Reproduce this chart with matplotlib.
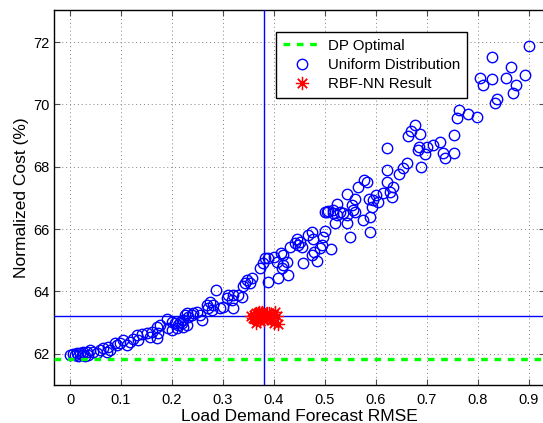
import numpy as np
import matplotlib
matplotlib.use('Agg')
import matplotlib.pyplot as plt

plt.rcParams['font.family'] = ['Liberation Sans', 'DejaVu Sans']

# Uniform distribution results (RMSE, normalized cost %)
uni_rmse = [0.000, 0.006, 0.010, 0.014, 0.016, 0.020, 0.024, 0.025, 0.029, 0.033,
            0.035, 0.039, 0.045, 0.053, 0.059, 0.065, 0.073, 0.075, 0.078, 0.088,
            0.092, 0.098, 0.104, 0.112, 0.118, 0.124, 0.131, 0.133, 0.141, 0.151,
            0.157, 0.161, 0.171, 0.171, 0.173, 0.176, 0.190, 0.192, 0.200, 0.200,
            0.206, 0.210, 0.212, 0.216, 0.220, 0.222, 0.222, 0.225, 0.229, 0.229,
            0.231, 0.239, 0.241, 0.249, 0.255, 0.259,
            0.269, 0.271, 0.275, 0.278, 0.280, 0.286, 0.294, 0.300, 0.308, 0.310,
            0.318, 0.320, 0.320, 0.329, 0.337, 0.339, 0.343, 0.347, 0.353, 0.357,
            0.373, 0.378, 0.382, 0.388, 0.388, 0.400, 0.406, 0.408, 0.416, 0.418,
            0.418, 0.425, 0.427, 0.414, 0.431, 0.441, 0.445, 0.447, 0.451, 0.455,
            0.457, 0.467, 0.475, 0.475, 0.476, 0.478, 0.484, 0.490, 0.494, 0.496,
            0.500, 0.500, 0.504, 0.506, 0.512, 0.516, 0.516, 0.520, 0.524, 0.524,
            0.529, 0.535, 0.543, 0.543, 0.543, 0.549, 0.553, 0.555, 0.559, 0.559,
            0.565, 0.575, 0.576, 0.582, 0.586, 0.588, 0.588, 0.592, 0.594, 0.600,
            0.604, 0.614, 0.622, 0.622, 0.622, 0.627, 0.631, 0.633, 0.645, 0.653,
            0.661, 0.663, 0.669, 0.676, 0.682, 0.685, 0.686, 0.688, 0.696, 0.700,
            0.712, 0.725, 0.731, 0.735, 0.753, 0.753, 0.759, 0.763, 0.780, 0.798,
            0.804, 0.810, 0.827, 0.827, 0.833, 0.837, 0.855, 0.865, 0.869, 0.875,
            0.892, 0.900]
uni_cost = [61.97, 62.00, 61.97, 62.03, 61.93, 62.03, 61.97, 62.06, 61.94, 62.06,
            61.97, 62.13, 62.06, 62.03, 62.13, 62.19, 62.06, 62.22, 62.13, 62.35,
            62.29, 62.35, 62.45, 62.29, 62.38, 62.48, 62.61, 62.45, 62.64, 62.67,
            62.54, 62.71, 62.87, 62.51, 62.67, 62.93, 63.12, 62.83, 62.77, 63.03,
            63.00, 62.83, 62.93, 63.03, 63.00, 63.09, 62.87, 63.25, 63.31, 62.93,
            63.19, 63.25, 63.31, 63.35, 63.25, 63.09,
            63.57, 63.47, 63.67, 63.41, 63.57, 64.05, 63.47, 63.51, 63.79, 63.89,
            63.73, 63.89, 63.47, 63.89, 63.83, 64.18, 64.28, 64.37, 64.28, 64.44,
            64.76, 64.92, 65.08, 64.31, 65.08, 65.11, 64.95, 64.44, 64.76, 65.17,
            64.85, 64.95, 64.53, 65.24, 65.43, 65.56, 65.69, 65.49, 65.59, 65.43,
            64.92, 65.81, 65.91, 65.17, 65.69, 65.27, 64.98, 65.40, 65.49, 65.75,
            65.94, 66.55, 66.55, 66.58, 65.37, 66.62, 66.52, 66.20, 66.81, 66.46,
            66.55, 66.52, 67.13, 66.46, 66.20, 65.75, 66.78, 66.62, 66.97, 66.55,
            67.35, 66.29, 67.58, 67.51, 66.97, 65.91, 66.39, 66.71, 66.94, 67.10,
            66.87, 67.16, 68.60, 67.90, 67.51, 67.19, 67.03, 67.35, 67.77, 67.96,
            68.12, 68.99, 69.15, 69.34, 68.54, 68.63, 69.05, 67.99, 68.41, 68.63,
            68.70, 68.79, 68.44, 68.28, 69.02, 68.44, 69.56, 69.82, 69.69, 69.60,
            70.85, 70.62, 71.52, 70.81, 70.04, 70.17, 70.85, 71.20, 70.37, 70.62,
            70.94, 71.87]

# RBF-NN results
rbf_rmse = [0.355, 0.360, 0.362, 0.365, 0.366, 0.368, 0.370, 0.371, 0.372, 0.374,
            0.375, 0.376, 0.378, 0.380, 0.382, 0.358, 0.364, 0.369, 0.373, 0.377,
            0.385, 0.390, 0.395, 0.398, 0.400, 0.402, 0.405, 0.408, 0.392, 0.387]
rbf_cost = [63.20, 63.25, 63.15, 63.30, 63.10, 63.20, 63.35, 63.25, 63.05, 63.20,
            63.30, 63.15, 63.25, 63.10, 63.20, 63.15, 63.00, 63.30, 63.20, 63.35,
            63.20, 63.30, 63.10, 63.25, 63.00, 63.35, 63.20, 62.95, 63.15, 63.30]

dp_optimal = 61.83
rbf_mean_rmse = 0.381
rbf_mean_cost = 63.20

xticks = [0, 0.1, 0.2, 0.3, 0.4, 0.5, 0.6, 0.7, 0.8, 0.9]
xticklabels = ['0', '0.1', '0.2', '0.3', '0.4', '0.5', '0.6', '0.7', '0.8', '0.9']
yticks = [62, 64, 66, 68, 70, 72]

fig = plt.figure(figsize=(5.43, 4.23), dpi=100)
# axes box runs just past the right edge of the image, as in the original
ax = fig.add_axes([54 / 543, 38 / 423, 491 / 543, 375 / 423])

ax.axhline(dp_optimal, color=(0, 1, 0), lw=2.4, dashes=(2, 2), label='DP Optimal', zorder=3)
ax.plot(uni_rmse, uni_cost, 'o', mfc='none', mec='b', ms=7.5, mew=1.0,
        label='Uniform Distribution', zorder=2)
ax.plot(rbf_rmse, rbf_cost, ls='none', marker=(8, 2, 0), color='r', ms=9.5, mew=0.9,
        label='RBF-NN Result', zorder=4)
ax.axvline(rbf_mean_rmse, color='b', lw=1, zorder=3)
ax.axhline(rbf_mean_cost, color='b', lw=1, zorder=3)

ax.set_xlim(-0.0314, 0.9314)
ax.set_ylim(61.0, 73.03)
ax.set_xticks(xticks)
ax.set_xticklabels(xticklabels)
ax.set_yticks(yticks)
ax.tick_params(direction='in', length=4, width=0.8, labelsize=10.5,
               top=True, right=True, color='0.3')
ax.tick_params(axis='x', pad=6)
ax.grid(True, ls=(0, (1, 3)), color='0.5', lw=0.7)
for sp in ax.spines.values():
    sp.set_linewidth(1.0)

ax.set_xlabel('Load Demand Forecast RMSE', fontsize=12.5, labelpad=1)
ax.set_ylabel('Normalized Cost (%)', fontsize=12.5, labelpad=3)

leg = ax.legend(loc='upper left', bbox_to_anchor=((276 - 54) / 491, (385 - 32) / 375),
                borderaxespad=0, fontsize=10.8, fancybox=False, framealpha=1,
                edgecolor='k', handlelength=2.6, handletextpad=0.4,
                labelspacing=0.35, borderpad=0.45)
leg.get_frame().set_linewidth(1.0)

fig.savefig('out.png', dpi=100)
